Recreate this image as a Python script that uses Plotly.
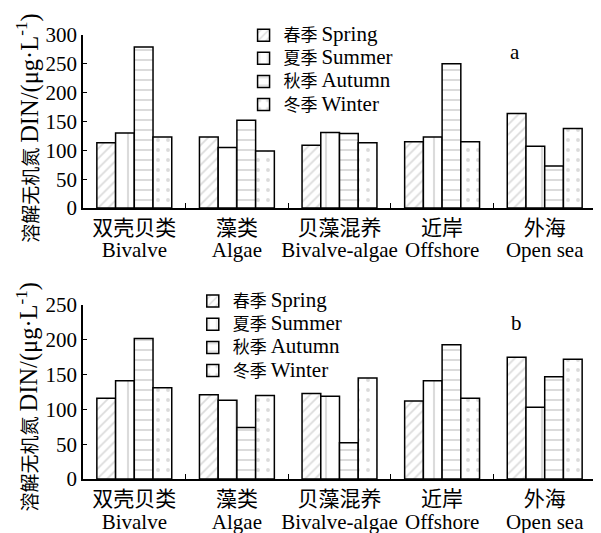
import plotly.graph_objects as go

cn_labels = ["双壳贝类", "藻类", "贝藻混养", "近岸", "外海"]
en_labels = ["Bivalve", "Algae", "Bivalve-algae", "Offshore", "Open sea"]
season_cn = ["春季", "夏季", "秋季", "冬季"]
season_en = ["Spring", "Summer", "Autumn", "Winter"]

# Panel a
a_spring = [113, 123, 109, 115, 164]
a_summer = [130, 105, 131, 123, 107]
a_autumn = [279, 152, 129, 250, 73]
a_winter = [123, 99, 113, 115, 138]

# Panel b
b_spring = [116, 121, 123, 112, 175]
b_summer = [141, 113, 119, 141, 103]
b_autumn = [202, 74, 52, 193, 147]
b_winter = [131, 120, 145, 116, 172]

categories = [f'<span style="font-size:21px">{c}</span><br><span style="font-size:21px">{e}</span>'
              for c, e in zip(cn_labels, en_labels)]
season_names = [f'<span style="font-size:17px">{c}</span> <span style="font-size:21px">{e}</span>'
                for c, e in zip(season_cn, season_en)]

shapes = ["/", "|", "-", "."]
sizes = [7, 18, 10, 10]
solid = [0.25, 0.12, 0.2, 0.12]

FONT = "Times New Roman, Liberation Serif, Noto Sans CJK SC, serif"
FS = 21

fig = go.Figure()

for data, xa, ya, lg in [((a_spring, a_summer, a_autumn, a_winter), "x", "y", "legend"),
                         ((b_spring, b_summer, b_autumn, b_winter), "x2", "y2", "legend2")]:
    for i, vals in enumerate(data):
        fig.add_trace(go.Bar(
            x=categories, y=vals, xaxis=xa, yaxis=ya, legend=lg,
            name=season_names[i],
            marker=dict(color="white", line=dict(color="black", width=1.5),
                        pattern=dict(shape=shapes[i], fgcolor="#b8b8b8", bgcolor="white",
                                     size=sizes[i], solidity=solid[i], fillmode="overlay")),
        ))

axis_common = dict(showline=True, linecolor="black", linewidth=1.5, mirror=False,
                   showgrid=False, zeroline=False, ticks="inside", tickcolor="black",
                   tickangle=0, automargin=False)
xfont = dict(size=17.5, family=FONT, color="black")
yfont = dict(size=FS, family=FONT, color="black")

fig.update_layout(
    width=593, height=525,
    margin=dict(l=75, r=5, t=27, b=54, autoexpand=False),
    paper_bgcolor="white", plot_bgcolor="white",
    font=dict(family=FONT, size=FS, color="black"),
    barmode="group", bargap=0.27, bargroupgap=0,
    xaxis=dict(domain=[0, 1], anchor="y", type="category", range=[-0.5, 4.5],
               tickson="boundaries", ticklen=5, tickfont=xfont, ticklabelstandoff=4,
               **axis_common),
    yaxis=dict(domain=[0.6104, 1], anchor="x", range=[0, 300], dtick=50, ticklen=4,
               tickfont=yfont, **axis_common),
    xaxis2=dict(domain=[0, 1], anchor="y2", type="category", range=[-0.5, 4.5],
                tickson="boundaries", ticklen=5, tickfont=xfont, ticklabelstandoff=4,
                **axis_common),
    yaxis2=dict(domain=[0, 0.3919], anchor="x2", range=[0, 250], dtick=50, ticklen=4,
                tickfont=yfont, **axis_common),
    legend=dict(x=0.313, y=1.037, xanchor="left", yanchor="top", bgcolor="rgba(0,0,0,0)",
                font=dict(size=15.5, family=FONT), traceorder="normal", itemwidth=30),
    legend2=dict(x=0.214, y=0.438, xanchor="left", yanchor="top", bgcolor="rgba(0,0,0,0)",
                 font=dict(size=15.5, family=FONT), traceorder="normal", itemwidth=30),
    showlegend=True,
)

ytitle = ('<span style="font-size:19px">溶解无机氮</span> '
          '<span style="font-size:24.5px">DIN/(μg·L<sup>-1</sup>)</span>')
fig.add_annotation(text=ytitle, xref="paper", yref="paper",
                   x=-0.108, y=0.79, xanchor="center", yanchor="middle", textangle=-90,
                   showarrow=False, font=dict(size=20, family=FONT))
fig.add_annotation(text=ytitle, xref="paper", yref="paper",
                   x=-0.108, y=0.185, xanchor="center", yanchor="middle", textangle=-90,
                   showarrow=False, font=dict(size=20, family=FONT))
fig.add_annotation(text="a", xref="paper", yref="paper", x=(515 - 83) / 513, y=(479 - 52) / 444,
                   xanchor="center", yanchor="middle",
                   showarrow=False, font=dict(size=FS, family=FONT))
fig.add_annotation(text="b", xref="paper", yref="paper", x=(516 - 83) / 513, y=(479 - 323) / 444,
                   xanchor="center", yanchor="middle",
                   showarrow=False, font=dict(size=FS, family=FONT))

fig.write_html("out.html")
